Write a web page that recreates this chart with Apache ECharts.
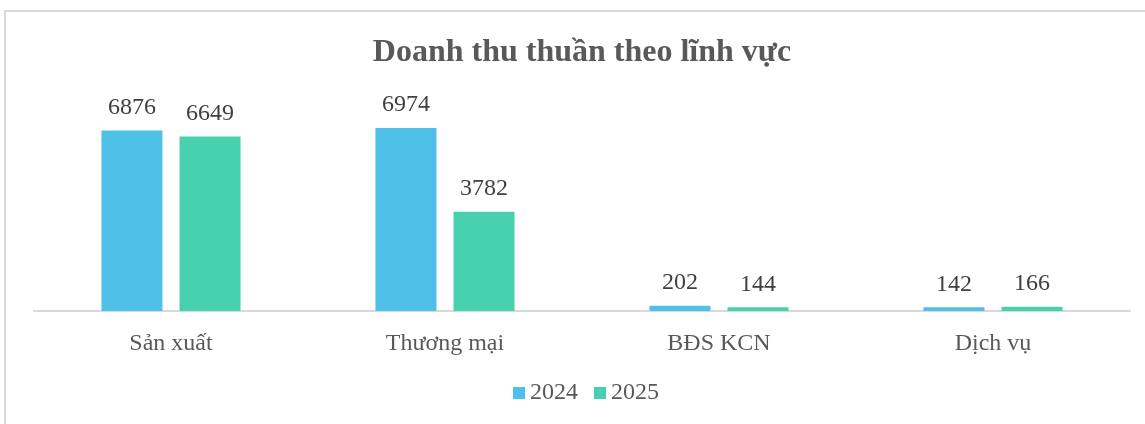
<!DOCTYPE html>
<html>
<head>
<meta charset="utf-8">
<script src="https://cdn.jsdelivr.net/npm/echarts@6/dist/echarts.min.js"></script>
<style>
  html, body { margin: 0; padding: 0; background: #fff; }
  #chart { width: 1145px; height: 424px; }
</style>
</head>
<body>
<div id="chart"></div>
<script>
let chart = echarts.init(document.getElementById('chart'));

// dữ liệu
let categories = ['Sản xuất', 'Thương mại', 'BĐS KCN', 'Dịch vụ'];
let years = ['2024', '2025'];
let values_2024 = [6876, 6974, 202, 142];
let values_2025 = [6649, 3782, 144, 166];
let colors = ['#4FC1E9', '#48D1AF'];

let font = '"Liberation Serif", "Times New Roman", serif';

function make_series(name, data, color) {
    return {
        name: name,
        type: 'bar',
        data: data,
        barWidth: 61,
        barGap: '28%',
        itemStyle: { color: color },
        label: {
            show: true,
            position: 'top',
            distance: 11,
            fontFamily: font,
            fontSize: 24,
            color: '#404040'
        }
    };
}

let option = {
    animation: false,
    title: {
        text: 'Doanh thu thuần theo lĩnh vực',
        left: 577,
        textAlign: 'center',
        top: 32,
        textStyle: {
            fontFamily: font,
            fontSize: 32,
            fontWeight: 'bold',
            color: '#595959'
        }
    },
    graphic: [{
        type: 'rect',
        shape: { x: 5, y: 11, width: 1160, height: 440 },
        style: { fill: 'none', stroke: '#d9d9d9', lineWidth: 2 },
        silent: true
    }],
    legend: {
        data: years,
        left: 508,
        top: 376,
        itemWidth: 12,
        itemHeight: 12,
        itemGap: 16,
        icon: 'rect',
        textStyle: {
            fontFamily: font,
            fontSize: 24,
            color: '#595959'
        }
    },
    grid: {
        left: 34,
        right: 15,
        top: 101,
        bottom: 113
    },
    xAxis: {
        type: 'category',
        data: categories,
        axisLine: { lineStyle: { color: '#d9d9d9', width: 2 } },
        axisTick: { show: false },
        axisLabel: {
            margin: 21,
            fontFamily: font,
            fontSize: 24,
            color: '#595959'
        }
    },
    yAxis: {
        type: 'value',
        min: 0,
        max: 8000,
        show: false,
        splitLine: { show: false }
    },
    series: [
        make_series(years[0], values_2024, colors[0]),
        make_series(years[1], values_2025, colors[1])
    ]
};

chart.setOption(option);
</script>
</body>
</html>
